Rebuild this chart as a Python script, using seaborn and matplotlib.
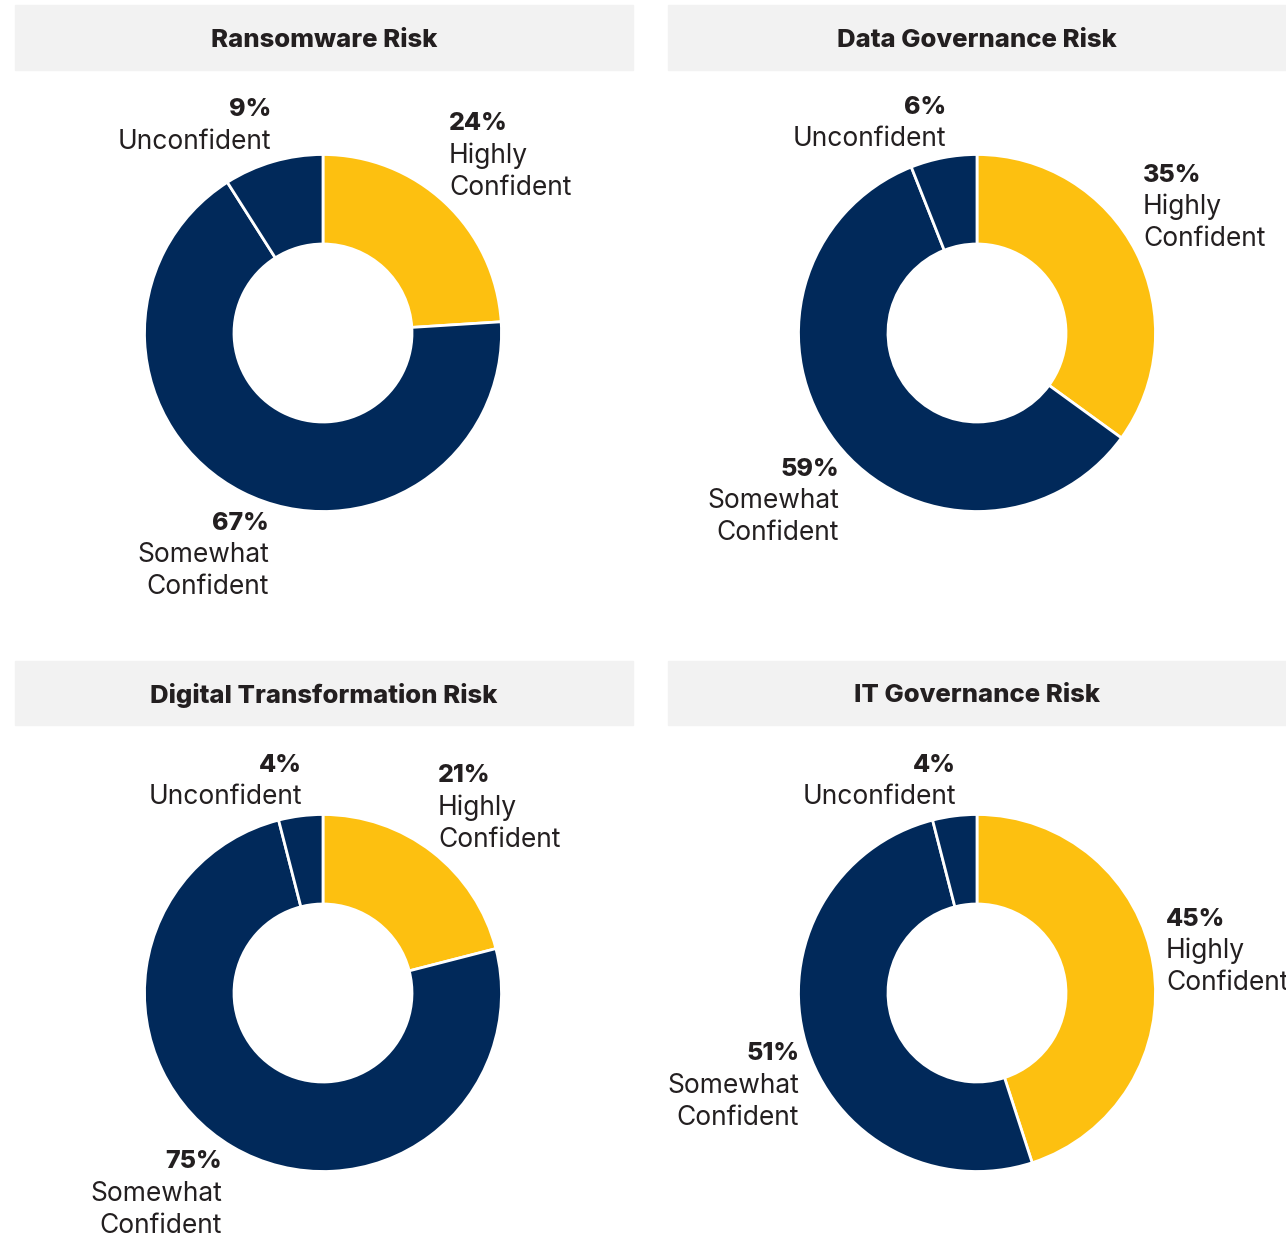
import matplotlib.pyplot as plt
import seaborn as sns
from matplotlib.patches import Rectangle

# data
PANELS = ["Ransomware Risk", "Data Governance Risk",
          "Digital Transformation Risk", "IT Governance Risk"]
CATEGORIES = ["Highly\nConfident", "Somewhat\nConfident", "Unconfident"]
HIGHLY = [24, 35, 21, 45]
SOMEWHAT = [67, 59, 75, 51]
UNCONFIDENT = [9, 6, 4, 4]

COLORS = ["#FDC010", "#01295A", "#01295A"]
TEXT = "#231F20"

# layout (pixels, y measured from the top of the image)
W, H = 1286, 1237
CENTERS = [(323, 333), (977, 333), (323, 993), (977, 993)]
RADIUS = 178.5
HOLE = 89
BANDS = [(15, 5, 633, 70), (668, 5, 1286, 70), (15, 661, 633, 725), (668, 661, 1286, 725)]
# label anchor offsets from the pie centre: (dx, dy of first line, ha)
LABEL_POS = [
    [(126, -209, "left"), (-54, 190, "right"), (-52, -223, "right")],
    [(166, -158, "left"), (-138, 136, "right"), (-31, -226, "right")],
    [(115, -217, "left"), (-101, 169, "right"), (-21, -228, "right")],
    [(189, -74, "left"), (-178, 61, "right"), (-21, -228, "right")],
]
LINE = 32

sns.set_theme(style="white")
plt.rcParams["font.family"] = ["Inter", "DejaVu Sans"]

fig = plt.figure(figsize=(W / 100, H / 100), dpi=100)
ax = fig.add_axes([0, 0, 1, 1])

for i, title in enumerate(PANELS):
    cx, cy = CENTERS[i]
    values = [HIGHLY[i], SOMEWHAT[i], UNCONFIDENT[i]]
    ax.pie(values, colors=COLORS, startangle=90, counterclock=False,
           center=(cx, H - cy), radius=RADIUS,
           wedgeprops=dict(width=RADIUS - HOLE, edgecolor="white", linewidth=2))

    x0, y0, x1, y1 = BANDS[i]
    ax.add_patch(Rectangle((x0, H - y1), x1 - x0, y1 - y0, color="#F2F2F2", zorder=0))
    ax.text((x0 + x1) / 2, H - (y0 + y1) / 2 - 3, title, ha="center", va="center",
            fontsize=18.5, fontweight="heavy", color=TEXT)

    for j, cat in enumerate(CATEGORIES):
        dx, dy, ha = LABEL_POS[i][j]
        ax.text(cx + dx, H - (cy + dy), f"{values[j]}%", ha=ha, va="center",
                fontsize=18, fontweight="heavy", color=TEXT)
        for k, line in enumerate(cat.split("\n")):
            ax.text(cx + dx, H - (cy + dy + LINE * (k + 1)), line, ha=ha, va="center",
                    fontsize=19, fontweight="normal", color=TEXT)

ax.set_xlim(0, W)
ax.set_ylim(0, H)
ax.set_aspect("auto")
ax.axis("off")

fig.savefig("out.png", dpi=100, facecolor="white")
